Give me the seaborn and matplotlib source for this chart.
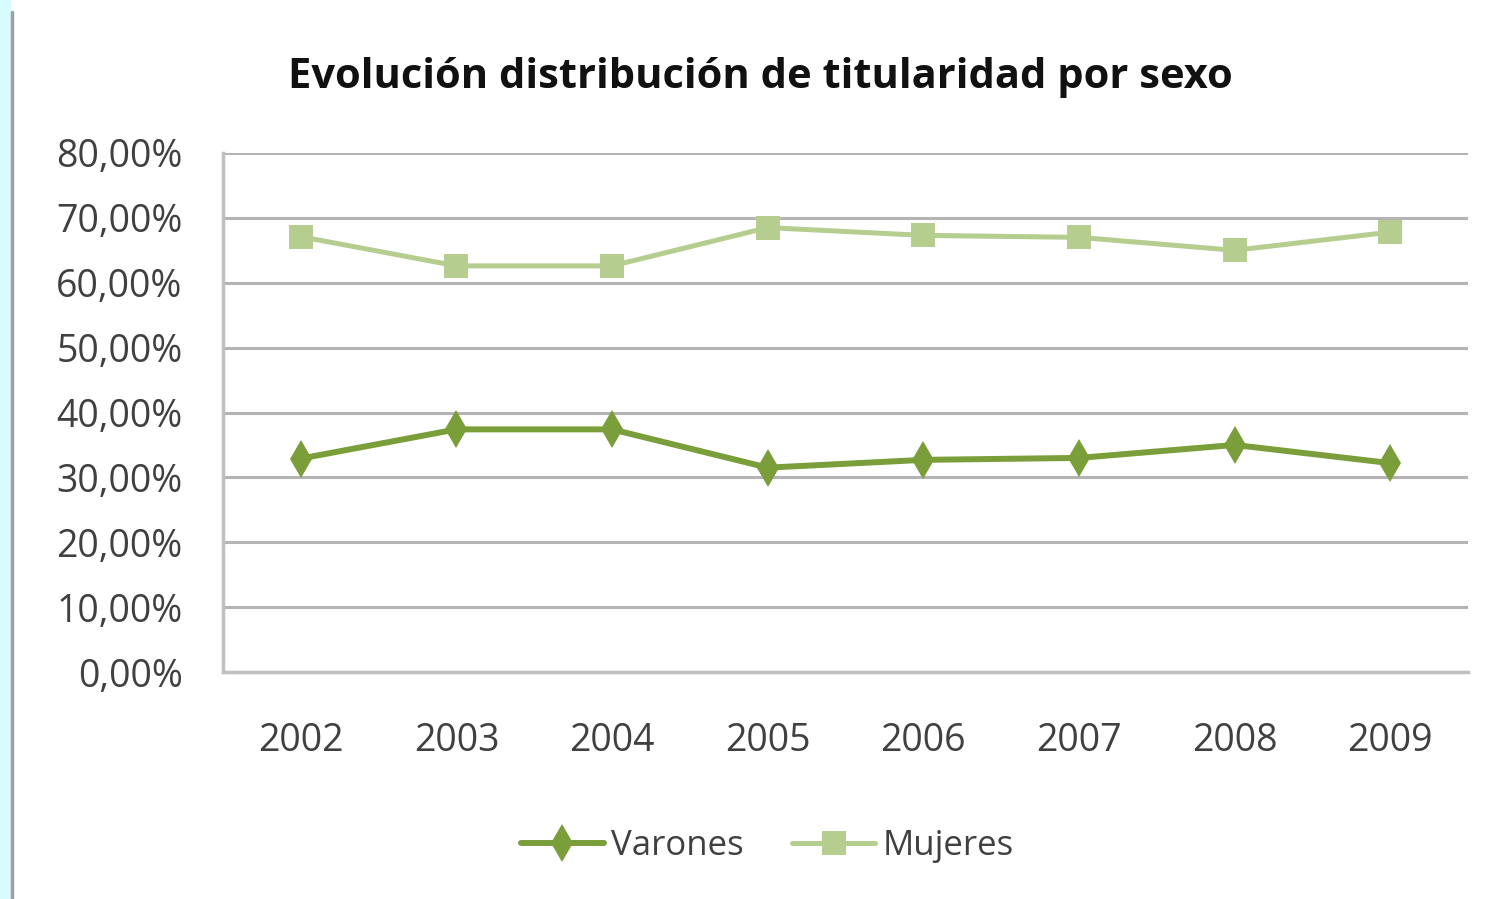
import matplotlib
matplotlib.use("Agg")
import matplotlib.pyplot as plt
import seaborn as sns
import pandas as pd
from matplotlib.patches import Rectangle
from matplotlib.lines import Line2D

years = ["2002", "2003", "2004", "2005", "2006", "2007", "2008", "2009"]
varones = [32.9, 37.4, 37.4, 31.5, 32.7, 33.0, 35.0, 32.2]
mujeres = [67.1, 62.6, 62.6, 68.5, 67.3, 67.0, 65.0, 67.8]
y_ticks = [0, 10, 20, 30, 40, 50, 60, 70, 80]
series_names = ["Varones", "Mujeres"]

sns.set_theme(style="white")
plt.rcParams["font.family"] = ["Open Sans", "DejaVu Sans"]

df = pd.DataFrame({
    "year": years * 2,
    "value": varones + mujeres,
    "serie": [series_names[0]] * len(years) + [series_names[1]] * len(years),
})
df["x"] = list(range(len(years))) * 2

c_var = "#7a9e3a"
c_muj = "#b5cd8e"

fig = plt.figure(figsize=(14.9, 8.99), dpi=100)
fig.patch.set_facecolor("white")
# left decorative strip
fig.add_artist(Rectangle((0, 0), 11 / 1490, 1, transform=fig.transFigure,
                         facecolor="#d8fbfc", edgecolor="none"))
fig.add_artist(Line2D([12 / 1490, 12 / 1490], [0, 1 - 12 / 899], transform=fig.transFigure,
                      color="#a0a0a0", lw=2.5))

ax = fig.add_axes([223 / 1490, (899 - 672) / 899, (1468 - 223) / 1490, (672 - 153) / 899])

sns.lineplot(data=df[df.serie == "Varones"], x="x", y="value", ax=ax, color=c_var,
             lw=4.3, marker="d", markersize=19, markeredgewidth=0, label="Varones")
sns.lineplot(data=df[df.serie == "Mujeres"], x="x", y="value", ax=ax, color=c_muj,
             lw=3.6, marker="s", markersize=17, markeredgewidth=0, label="Mujeres")

ax.set_xlim(-0.5, len(years) - 0.5)
ax.set_ylim(0, 80)
ax.set_yticks(y_ticks)
ax.set_yticklabels([f"{v:.2f}%".replace(".", ",") for v in y_ticks])
ax.set_xticks(range(len(years)))
ax.set_xticklabels(years)
ax.set_xlabel("")
ax.set_ylabel("")
ax.grid(axis="y", color="#b4b4b4", lw=2.2)
ax.set_axisbelow(True)
for s in ["top", "right"]:
    ax.spines[s].set_visible(False)
for s in ["left", "bottom"]:
    ax.spines[s].set_color("#c0c0c0")
    ax.spines[s].set_linewidth(2.5)
ax.tick_params(axis="y", length=0, pad=29, labelsize=27, labelcolor="#404040")
ax.tick_params(axis="x", length=0, pad=36, labelsize=27, labelcolor="#404040")

fig.text(0.51, 1 - 78 / 899, "Evolución distribución de titularidad por sexo",
         ha="center", va="center", fontsize=30, fontweight="bold", color="#111111")

leg = ax.legend(loc="center", bbox_to_anchor=(0.437, -0.335), ncol=2, frameon=False,
                fontsize=25, handlelength=2.4, handletextpad=0.2, columnspacing=1.4,
                labelcolor="#404040")

fig.savefig("out.png", dpi=100, facecolor="white")
